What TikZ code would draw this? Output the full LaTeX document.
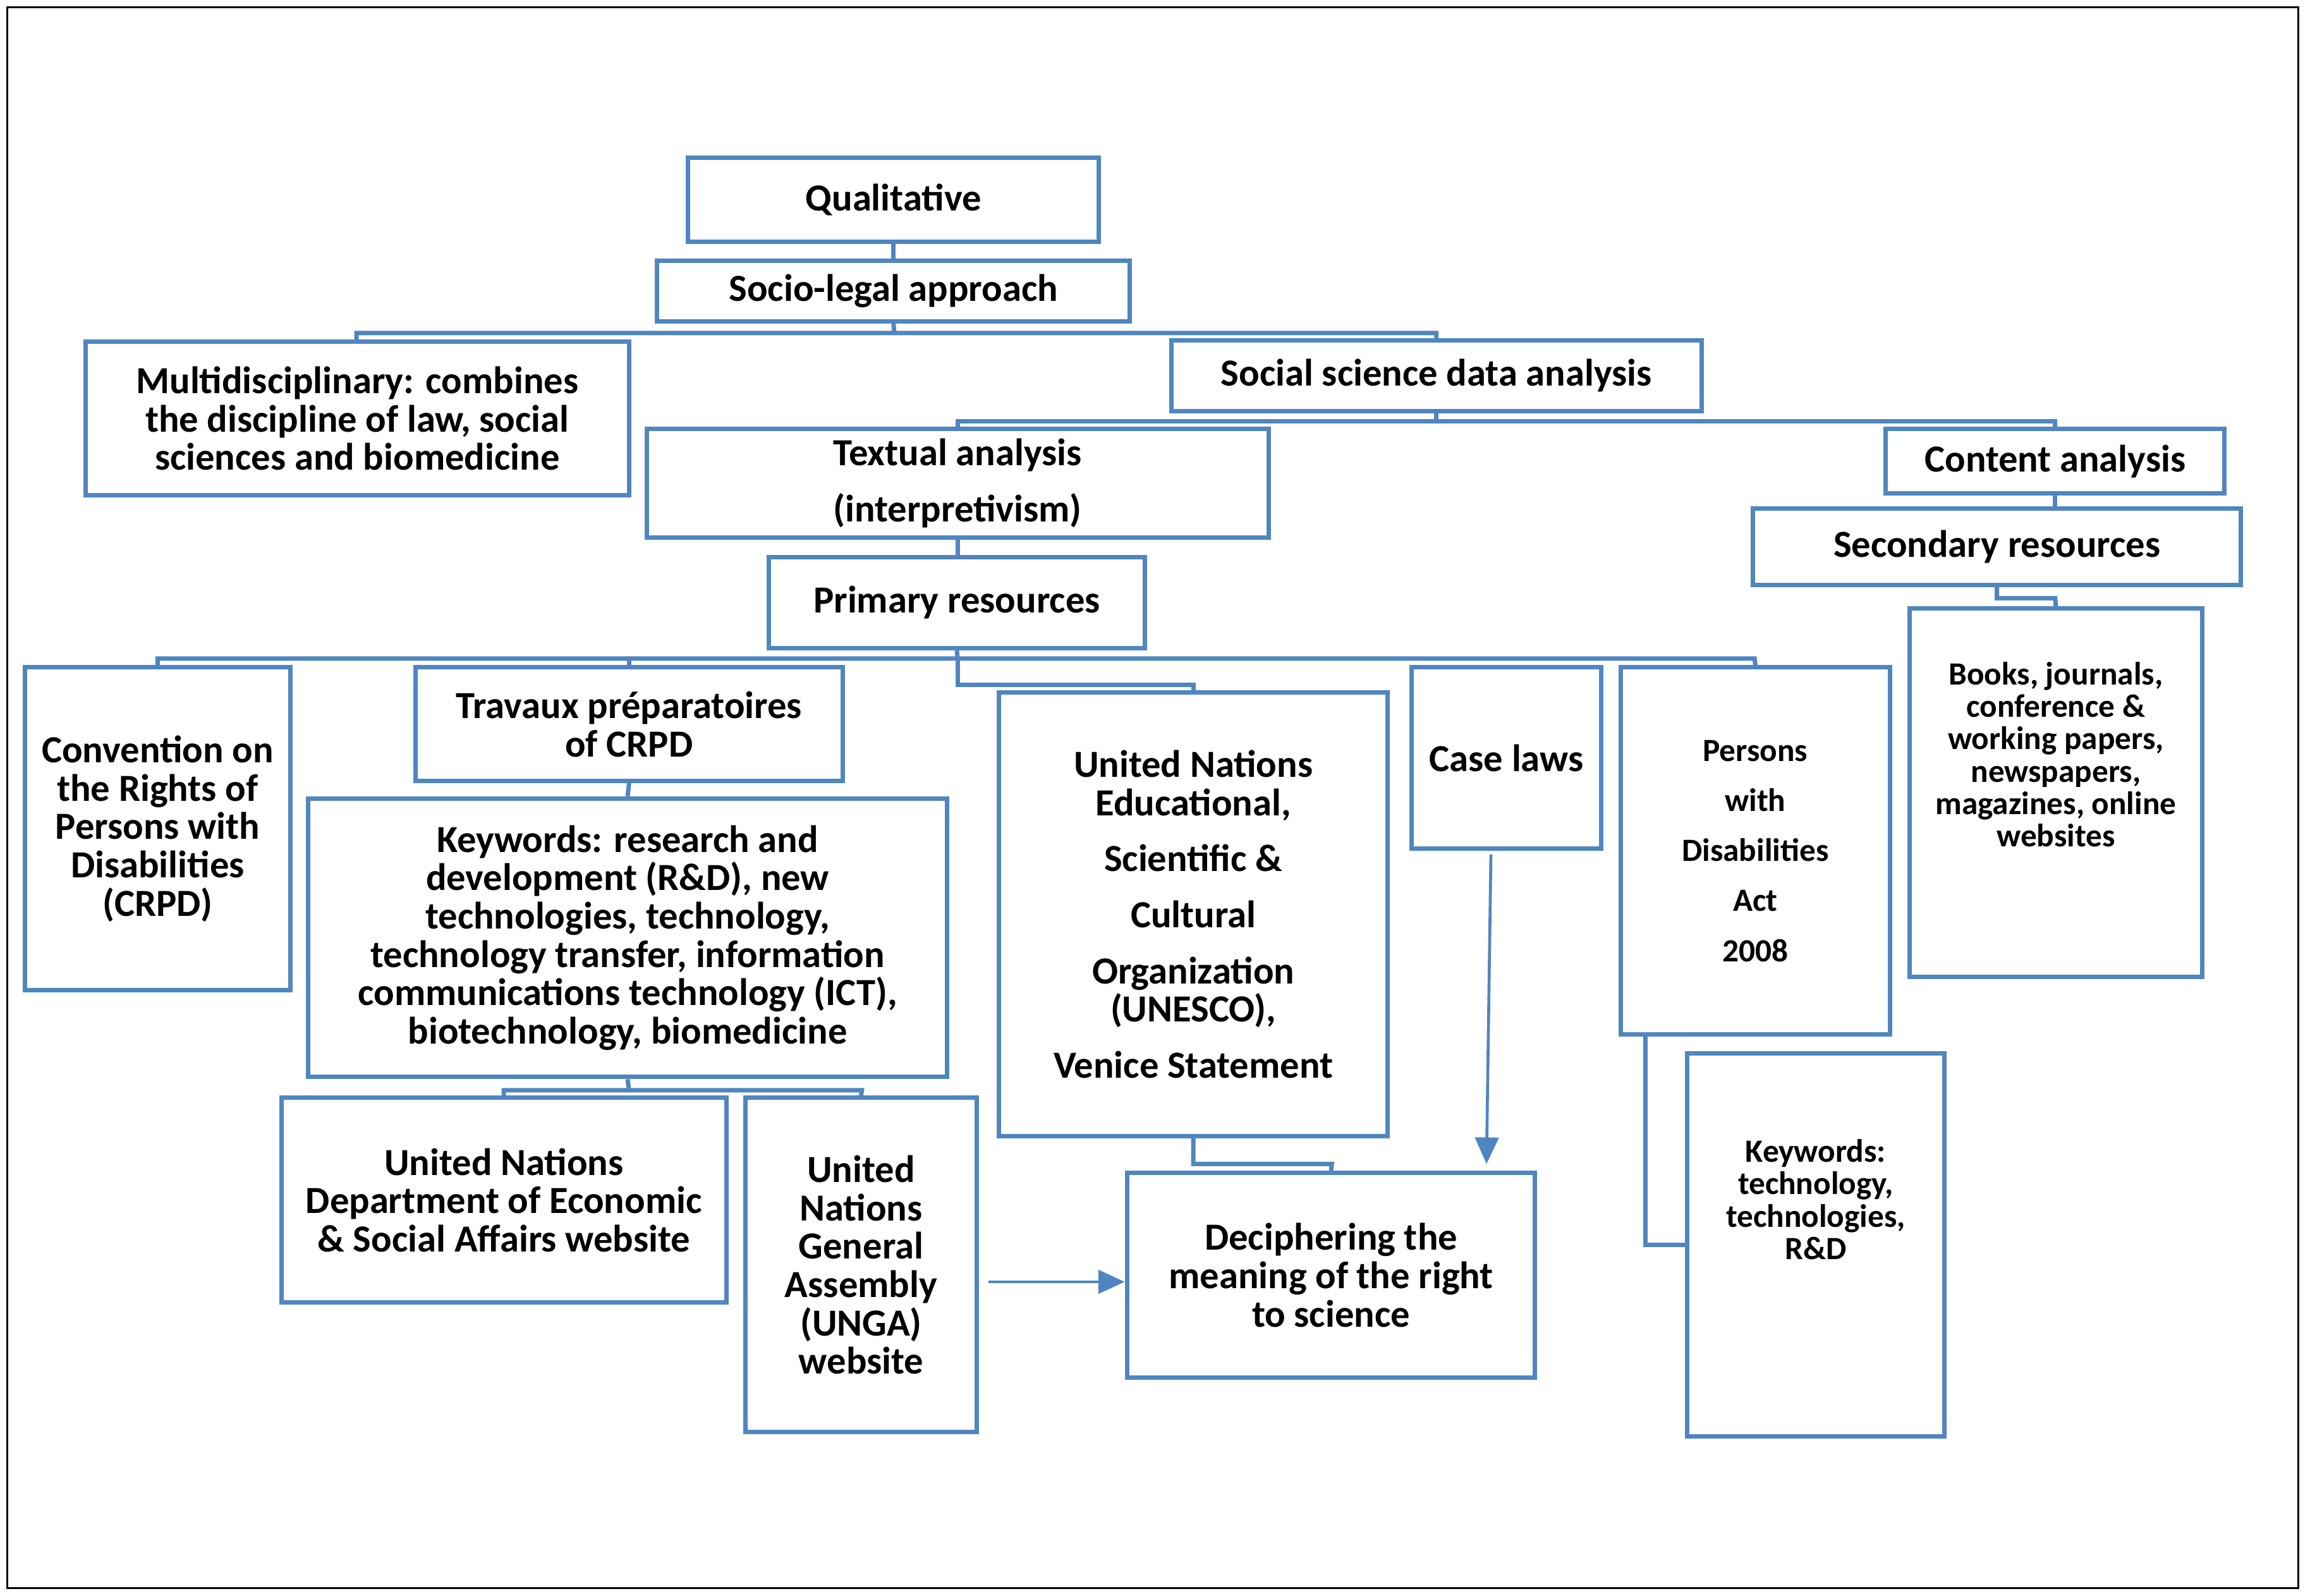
\documentclass[tikz,border=0pt]{standalone}
\usepackage{fontspec}
\setmainfont{Carlito}
\usetikzlibrary{arrows.meta}
\definecolor{bl}{HTML}{4F86C0}
\newcommand{\bx}[7][26pt]{%
  \node[box,font=\fontsize{#1}{#1*1.2}\bfseries,minimum width={(#5-#3)*1pt},minimum height={(#6-#4)*1pt}] (#2) at ({(#3+#5)/2},{(#4+#6)/2}) {#7};}
\begin{document}
\begin{tikzpicture}[x=1pt,y=-1pt,
  box/.style={draw=bl,line width=3pt,inner sep=0pt,align=center},
  ln/.style={draw=bl,line width=3pt}]
\useasboundingbox (0,0) rectangle (1568,1083);
\draw[line width=1.2pt] (5,5) rectangle (1560,1078);
\bx{q}{467}{107}{746}{164}{Qualitative}
\bx{s}{446}{177}{767}{218}{Socio-legal approach}
\bx{m}{58}{232}{427}{336}{Multidisciplinary: combines\\the discipline of law, social\\sciences and biomedicine}
\bx{ss}{795}{231}{1155}{279}{Social science data analysis}
\bx{t}{439}{291}{861}{365}{Textual analysis\\[12pt](interpretivism)}
\bx{c}{1280}{291}{1510}{335}{Content analysis}
\bx{sec}{1190}{345}{1521}{397}{Secondary resources}
\bx{p}{522}{378}{777}{440}{Primary resources}
\bx[22pt]{b}{1296}{413}{1495}{663}{Books, journals,\\conference \&\\working papers,\\newspapers,\\magazines, online\\websites\\[30pt]}
\bx{cv}{17}{453}{197}{672}{Convention on\\the Rights of\\Persons with\\Disabilities\\(CRPD)}
\bx{tr}{282}{453}{572}{530}{Travaux préparatoires\\of CRPD}
\bx{u}{678}{470}{942}{771}{United Nations\\Educational,\\[12pt] Scientific \&\\[12pt] Cultural\\[12pt] Organization\\(UNESCO),\\[12pt] Venice Statement}
\bx{cl}{958}{453}{1087}{576}{Case laws}
\bx[22pt]{pw}{1100}{453}{1283}{702}{Persons\\[12pt] with\\[12pt] Disabilities\\[12pt] Act\\[12pt] 2008}
\bx{k}{209}{542}{643}{731}{Keywords: research and\\development (R\&D), new\\technologies, technology,\\technology transfer, information\\communications technology (ICT),\\biotechnology, biomedicine}
\bx{d}{191}{745}{493}{884}{United Nations\\Department of Economic\\\& Social Affairs website}
\bx{g}{506}{745}{663}{972}{United\\Nations\\General\\Assembly\\(UNGA)\\website}
\bx{dc}{765}{796}{1042}{935}{Deciphering the\\meaning of the right\\to science}
\bx[22pt]{kt}{1145}{715}{1320}{975}{Keywords:\\technology,\\technologies,\\R\&D\\[40pt]}
\draw[ln] (q.south) -- (s.north);
\draw[ln] (s.south) -- (607,226) (242,232) |- (975,226) -- (ss.north);
\draw[ln] (ss.south) -- (975,286) (650,291) |- (1395,286) -- (c.north);
\draw[ln] (c.south) -- (sec.north-|c.south);
\draw[ln] (t.south) -- (p.north-|t.south);
\draw[ln] (sec.south) |- (1395,406) -- (b.north);
\draw[ln] (p.south) -- (650,447) (107,453) |- (1191,447) -- (pw.north);
\draw[ln] (427,447) -- (tr.north);
\draw[ln] (650,447) |- (810,465) -- (u.north);
\draw[ln] (tr.south) -- (k.north);
\draw[ln] (k.south) -- (427,740) (342,745) |- (585,740) -- (g.north);
\draw[ln] (u.south) |- (904,790) -- (dc.north);
\coordinate (a1) at (1012,580); \coordinate (a2) at (1009,790);
\draw[ln,line width=2pt,-{Triangle[length=18pt,width=16pt]}] (a1) -- (a2);
\coordinate (g1) at (671,870);
\draw[ln,line width=2pt,-{Triangle[length=18pt,width=16pt]}] (g1) -- (g1-|dc.west);
\draw[ln] (1117,702) |- (kt.west|-0,845);
\end{tikzpicture}
\end{document}
